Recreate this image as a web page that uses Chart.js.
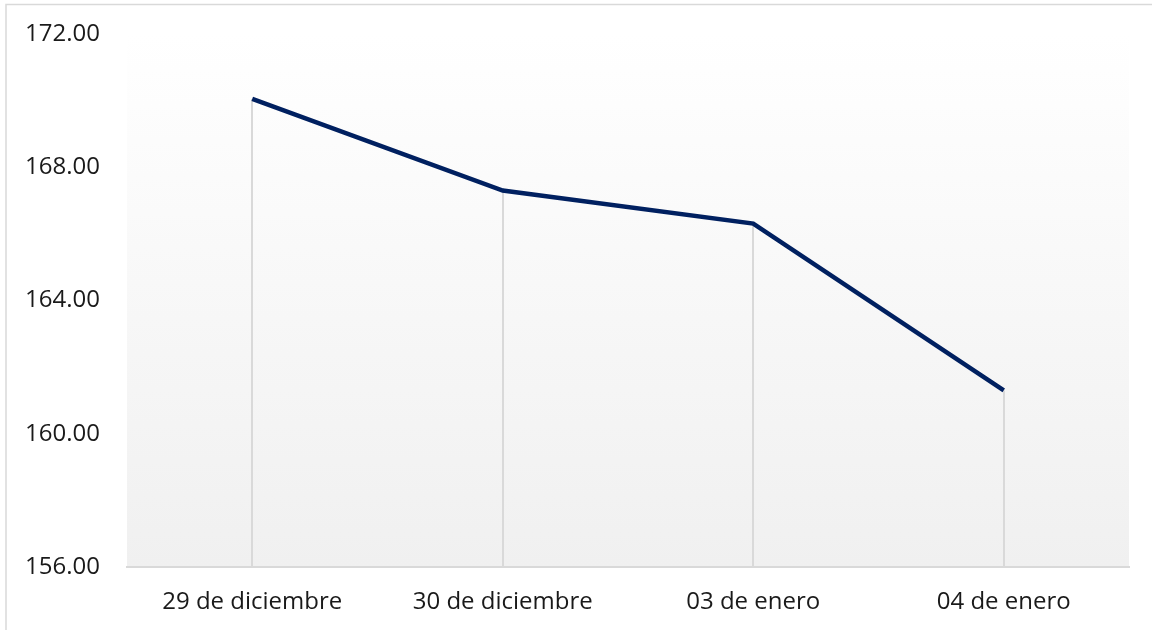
<!DOCTYPE html>
<html>
<head>
<meta charset="utf-8">
<script src="https://cdn.jsdelivr.net/npm/chart.js@4.4.1/dist/chart.umd.min.js"></script>
<style>
    html, body { margin: 0; padding: 0; background: #ffffff; }
    #wrap { width: 1152px; height: 630px; position: relative; }
</style>
</head>
<body>
<div id="wrap"><canvas id="chart" width="1152" height="630"></canvas></div>
<script>
// Values.
const categories = ['29 de diciembre', '30 de diciembre', '03 de enero', '04 de enero'];
const prices = [170.05, 167.30, 166.31, 161.30];
const yTicks = [156, 160, 164, 168, 172];

const navy = '#002060';
const lightGrey = '#d9d9d9';
const ink = '#1a1a1a';

/**
 * Paints the soft white-to-grey fill behind the plot, the thin frame at the
 * top/left edge and the vertical drop lines from each point to the axis.
 */
const decorations = {
    id: 'decorations',
    beforeDraw(chart) {
        const { ctx, chartArea: a } = chart;
        ctx.save();
        const g = ctx.createLinearGradient(0, a.top, 0, a.bottom);
        g.addColorStop(0, '#ffffff');
        g.addColorStop(1, '#f0f0f0');
        ctx.fillStyle = g;
        ctx.fillRect(a.left, a.top, a.right - a.left, a.bottom - a.top);

        ctx.strokeStyle = lightGrey;
        ctx.lineWidth = 1.5;
        ctx.beginPath();
        ctx.moveTo(6, chart.height);
        ctx.lineTo(6, 4.5);
        ctx.lineTo(chart.width, 4.5);
        ctx.stroke();
        ctx.restore();
    },
    beforeDatasetsDraw(chart) {
        const { ctx, chartArea: a } = chart;
        const meta = chart.getDatasetMeta(0);
        ctx.save();
        ctx.strokeStyle = lightGrey;
        ctx.lineWidth = 2;
        meta.data.forEach((pt) => {
            const x = Math.round(pt.x);
            ctx.beginPath();
            ctx.moveTo(x, pt.y);
            ctx.lineTo(x, a.bottom);
            ctx.stroke();
        });
        ctx.restore();
    },
};

new Chart(document.getElementById('chart'), {
    type: 'line',
    data: {
        labels: categories,
        datasets: [{
            data: prices,
            borderColor: navy,
            borderWidth: 4.5,
            pointRadius: 0,
            tension: 0,
            fill: false,
        }],
    },
    options: {
        responsive: false,
        animation: false,
        layout: { padding: { top: 34, right: 23, bottom: 0, left: 0 } },
        scales: {
            x: {
                offset: true,
                grid: { display: false, drawTicks: false },
                border: { display: true, color: lightGrey, width: 2 },
                ticks: {
                    color: ink,
                    padding: 21,
                    maxRotation: 0,
                    font: { family: '"Open Sans"', size: 24 },
                },
                afterFit: (scale) => { scale.height = 63; },
            },
            y: {
                min: 156,
                max: 172,
                afterBuildTicks: (scale) => {
                    scale.ticks = yTicks.map((v) => ({ value: v }));
                },
                // Invisible tick marks push the labels away from the plot
                // without inflating the top padding the way ticks.padding does.
                grid: {
                    display: true,
                    drawOnChartArea: false,
                    drawTicks: true,
                    tickLength: 21,
                    color: 'rgba(0,0,0,0)',
                },
                border: { display: false },
                ticks: {
                    color: ink,
                    padding: 6,
                    font: { family: '"Open Sans"', size: 24 },
                    callback: (v) => Number(v).toFixed(2),
                },
                afterFit: (scale) => { scale.width = 127; },
            },
        },
        plugins: {
            legend: { display: false },
            tooltip: { enabled: false },
        },
    },
    plugins: [decorations],
});
</script>
</body>
</html>
